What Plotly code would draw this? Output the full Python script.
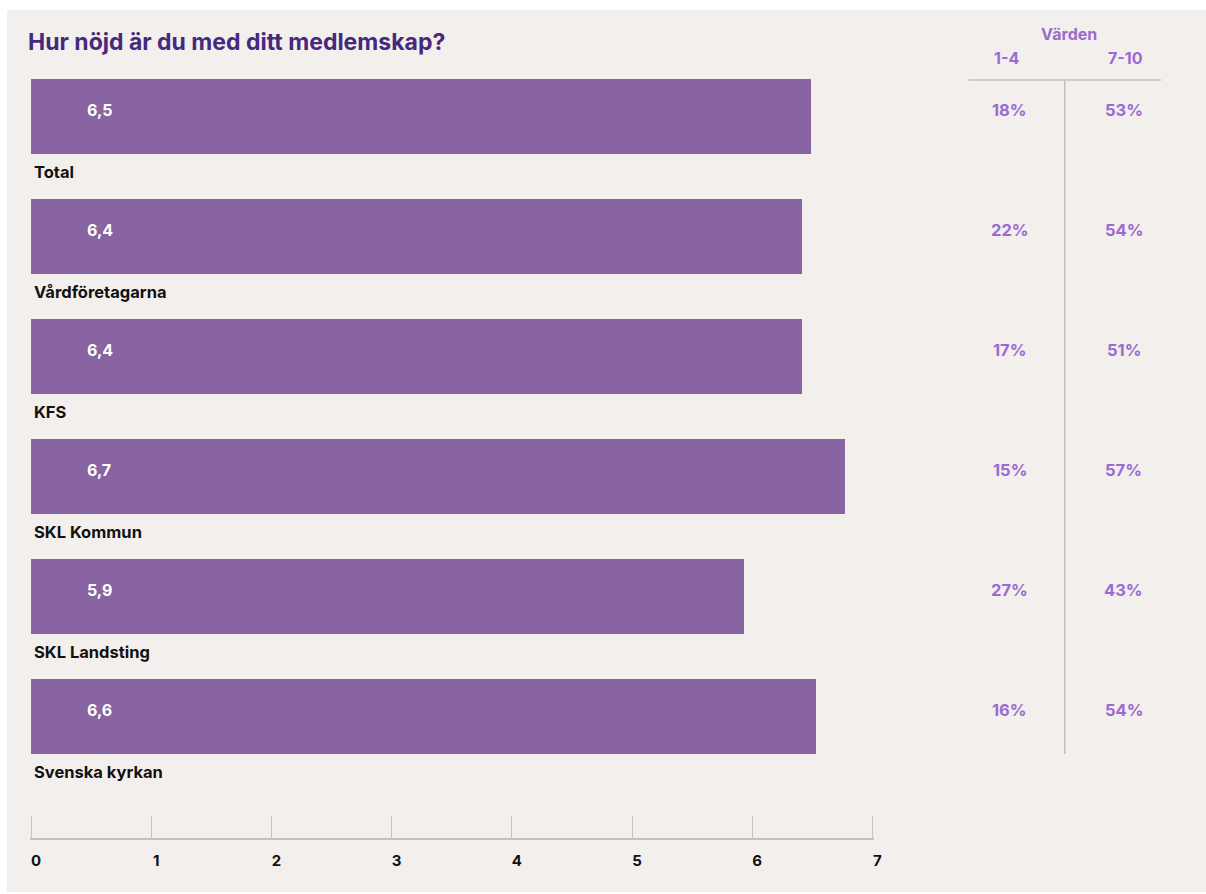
import plotly.graph_objects as go

categories = ["Total", "Vårdföretagarna", "KFS", "SKL Kommun", "SKL Landsting", "Svenska kyrkan"]
values = [6.49, 6.41, 6.41, 6.77, 5.93, 6.53]
value_labels = ["6,5", "6,4", "6,4", "6,7", "5,9", "6,6"]
low_pct = ["18%", "22%", "17%", "15%", "27%", "16%"]
high_pct = ["53%", "54%", "51%", "57%", "43%", "54%"]
x_ticks = [0, 1, 2, 3, 4, 5, 6, 7]
title_text = "Hur nöjd är du med ditt medlemskap?"
header_text = "Värden"
col_headers = ["1-4", "7-10"]

W, H = 1216, 894          # drawing width (compensates for capture squeeze)
SX = W / 1206.0           # horizontal scale from target pixels to drawing pixels
BAR_COLOR = "#8964a3"
TITLE_COLOR = "#46297f"
PCT_COLOR = "#9a6bd1"
LINE_COLOR = "#c9c1b9"
PANEL = "#f3efec"
FONT = "Inter, Roboto, Liberation Sans, sans-serif"


def px(x):
    return x * SX / W


fig = go.Figure()
fig.add_trace(go.Bar(
    x=values, y=categories, orientation="h",
    marker=dict(color=BAR_COLOR, line=dict(width=0)),
    width=0.617, hoverinfo="skip",
))

unit = 120.0
top = -116.5 / unit
bottom = top + H / unit

pad = 0.01
x0_px, x1_px = 31 - pad * 120, 871 + pad * 120
fig.update_layout(
    width=W, height=H,
    autosize=False,
    margin=dict(l=0, r=0, t=0, b=0),
    paper_bgcolor="white", plot_bgcolor="rgba(0,0,0,0)",
    showlegend=False,
    bargap=0,
    xaxis=dict(
        domain=[px(x0_px), px(x1_px)], range=[-pad, 7 + pad],
        anchor="free", position=(H - 839) / H,
        showgrid=False, zeroline=False,
        showline=True, linecolor=LINE_COLOR, linewidth=2,
        ticks="inside", ticklen=22, tickcolor=LINE_COLOR, tickwidth=1,
        tickvals=x_ticks, ticktext=[str(t) for t in x_ticks],
        ticklabelshift=5, ticklabelstandoff=8,
        tickfont=dict(family=FONT, size=15, color="#111111", weight="bold"),
        fixedrange=True,
    ),
    yaxis=dict(
        domain=[0, 1], range=[bottom, top],
        type="category", categoryorder="array", categoryarray=categories,
        showticklabels=False, showgrid=False, zeroline=False, showline=False, ticks="",
        fixedrange=True,
    ),
)

shapes = [
    dict(type="rect", xref="paper", yref="paper", x0=px(7), x1=1.0, y0=1 - 892 / H, y1=1 - 10 / H,
         fillcolor=PANEL, line=dict(width=0), layer="below"),
    dict(type="line", xref="paper", yref="paper", x0=px(967), x1=px(1159), y0=1 - 80 / H, y1=1 - 80 / H,
         line=dict(color=LINE_COLOR, width=1.5)),
    dict(type="line", xref="paper", yref="paper", x0=px(1063), x1=px(1063), y0=1 - 80 / H, y1=1 - 754 / H,
         line=dict(color=LINE_COLOR, width=1.5)),
]

ann = []
ann.append(dict(text=title_text, xref="paper", yref="paper", x=px(26), y=1 - 42 / H,
                xanchor="left", yanchor="middle", showarrow=False,
                font=dict(family=FONT, size=23, color=TITLE_COLOR, weight="bold")))
ann.append(dict(text=header_text, xref="paper", yref="paper", x=px(1067), y=1 - 34 / H,
                xanchor="center", yanchor="middle", showarrow=False,
                font=dict(family=FONT, size=16, color=PCT_COLOR, weight="bold")))
for txt, xc in zip(col_headers, [1005, 1124]):
    ann.append(dict(text=txt, xref="paper", yref="paper", x=px(xc), y=1 - 58 / H,
                    xanchor="center", yanchor="middle", showarrow=False,
                    font=dict(family=FONT, size=16, color=PCT_COLOR, weight="bold")))

for cat, vl, lo, hi in zip(categories, value_labels, low_pct, high_pct):
    ann.append(dict(text=vl, xref="x", yref="y", x=0, y=cat, xshift=54 * SX, yshift=6.5,
                    xanchor="left", yanchor="middle", showarrow=False,
                    font=dict(family=FONT, size=16, color="white", weight="bold")))
    ann.append(dict(text=cat, xref="x", yref="y", x=0, y=cat, xshift=1, yshift=-55.5,
                    xanchor="left", yanchor="middle", showarrow=False,
                    font=dict(family=FONT, size=16.5, color="#111111", weight="bold")))
    ann.append(dict(text=lo, xref="paper", yref="y", x=px(1008), y=cat, yshift=6.5,
                    xanchor="center", yanchor="middle", showarrow=False,
                    font=dict(family=FONT, size=16.5, color=PCT_COLOR, weight="bold")))
    ann.append(dict(text=hi, xref="paper", yref="y", x=px(1122), y=cat, yshift=6.5,
                    xanchor="center", yanchor="middle", showarrow=False,
                    font=dict(family=FONT, size=16.5, color=PCT_COLOR, weight="bold")))

fig.update_layout(shapes=shapes, annotations=ann)
fig.write_html(
    "out.html",
    config={"displayModeBar": False, "responsive": False},
)
